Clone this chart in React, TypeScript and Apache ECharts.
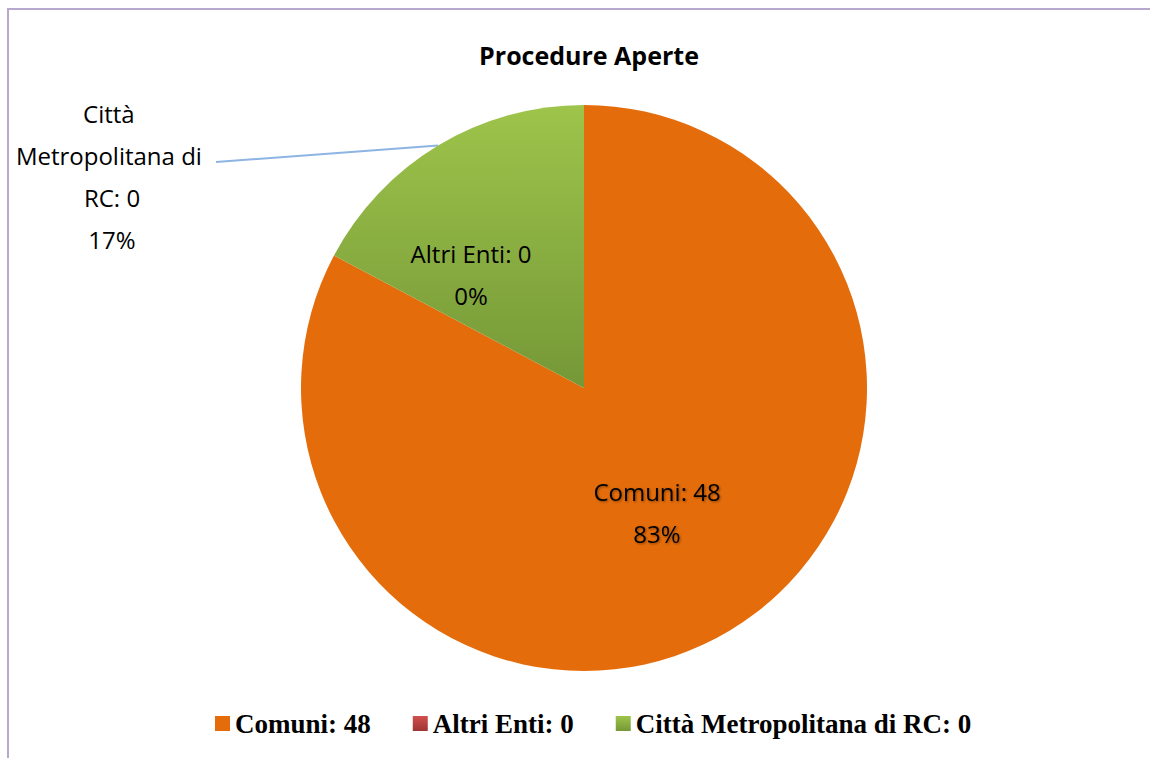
import React, { useEffect, useRef } from "react";
import * as echarts from "echarts";

const title = "Procedure Aperte";
const categories = ["Comuni", "Altri Enti", "Città Metropolitana di RC"];
const legendCounts = [48, 0, 0];
const sliceValues = [48, 0, 10];

const LABEL_FONT = "'Open Sans', 'Noto Sans', sans-serif";

export default function App() {
  const ref = useRef<HTMLDivElement>(null);
  useEffect(() => {
    if (!ref.current) return;
    const chart = echarts.init(ref.current, null, { renderer: "svg" });
    const names = categories.map((c, i) => `${c}: ${legendCounts[i]}`);
    const fills: any[] = [
      "#E46C0A",
      new echarts.graphic.LinearGradient(0, 0, 0, 1, [
        { offset: 0, color: "#D0504D" },
        { offset: 1, color: "#9E3532" },
      ]),
      new echarts.graphic.LinearGradient(0, 0, 0, 1, [
        { offset: 0, color: "#9EC44B" },
        { offset: 1, color: "#759837" },
      ]),
    ];
    const cx = 584;
    const cy = 388;
    const labelSpots: [number, number][] = [
      [cx + 73, cy + 124],
      [cx - 113, cy - 114],
      [112, 176],
    ];
    chart.setOption({
      animation: false,
      title: {
        text: title,
        left: cx,
        textAlign: "center",
        top: 37,
        textStyle: {
          fontFamily: LABEL_FONT,
          fontWeight: "bold",
          fontSize: 25,
          color: "#000",
        },
      },
      graphic: [
        {
          type: "rect",
          shape: { x: 8, y: 9, width: 1300, height: 900 },
          style: { fill: "none", stroke: "#B7A8D0", lineWidth: 2 },
          silent: true,
        },
      ],
      legend: {
        top: 705,
        left: 210,
        itemWidth: 15,
        itemHeight: 15,
        itemGap: 42,
        icon: "rect",
        textStyle: {
          fontFamily: "'Liberation Serif', 'Times New Roman', serif",
          fontWeight: "bold",
          fontSize: 27,
          color: "#000",
        },
        data: names,
      },
      series: [
        {
          type: "pie",
          center: [cx, cy],
          radius: 283,
          startAngle: 90,
          clockwise: true,
          avoidLabelOverlap: false,
          percentPrecision: 0,
          stillShowZeroSum: true,
          minShowLabelAngle: 0,
          label: {
            show: true,
            position: "inside",
            formatter: "{b}\n{d}%",
            fontFamily: LABEL_FONT,
            fontSize: 24,
            lineHeight: 42,
            color: "#000",
            align: "center",
          },
          labelLine: { show: false },
          labelLayout: (p: any) => {
            const s = labelSpots[p.dataIndex];
            const out: any = { x: s[0], y: s[1], align: "center", verticalAlign: "middle" };
            if (p.dataIndex === 2 && p.labelLinePoints && p.labelLinePoints.length) {
              const start = p.labelLinePoints[0];
              const endX = s[0] + p.labelRect.width / 2 + 4;
              const endY = s[1] - 14;
              out.labelLinePoints = [start, start, [endX, endY]];
            }
            return out;
          },
          data: names.map((n, i) => {
            const item: any = {
              name: n,
              value: sliceValues[i],
              itemStyle: { color: fills[i] },
            };
            if (i === 0) {
              item.label = {
                textShadowColor: "rgba(0,0,0,0.4)",
                textShadowBlur: 2,
                textShadowOffsetX: 1,
                textShadowOffsetY: 1,
              };
            }
            if (i === 2) {
              item.label = {
                position: "outside",
                width: 200,
                overflow: "break",
              };
              item.labelLine = {
                show: true,
                length: 10,
                length2: 10,
                lineStyle: { color: "#8EB4E3", width: 2 },
              };
            }
            return item;
          }),
        },
      ],
    });
    return () => chart.dispose();
  }, []);
  return (
    <div
      ref={ref}
      style={{ position: "fixed", left: 0, top: 0, width: 1150, height: 758, background: "#fff" }}
    />
  );
}
